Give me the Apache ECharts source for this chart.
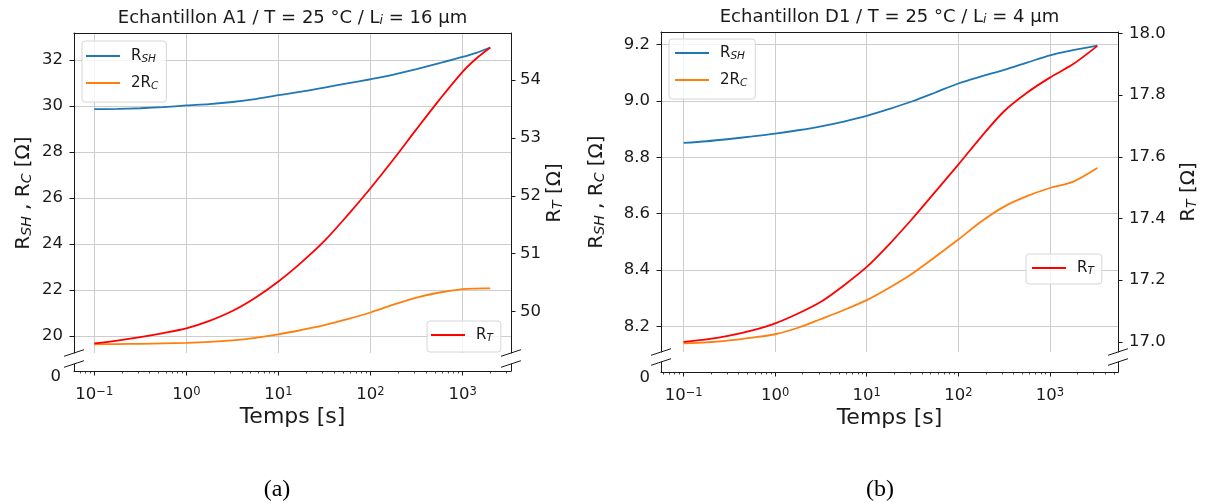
<!DOCTYPE html>
<html>
<head>
<meta charset="utf-8">
<script src="https://cdn.jsdelivr.net/npm/echarts@6/dist/echarts.min.js"></script>
<style>
html,body{margin:0;padding:0;background:#ffffff;}
#main{width:1207px;height:504px;}
</style>
</head>
<body>
<div id="main"></div>
<script>
// ---------------- DATA ----------------
// Chart (a): Echantillon A1 (time in s, quarter-decade readings)
const timeA = [0.1, 0.178, 0.316, 0.562, 1, 1.78, 3.16, 5.62, 10, 17.8, 31.6, 56.2, 100, 178, 316, 562, 1000, 1410, 2000];
const rshA  = [29.86, 29.87, 29.90, 29.95, 30.02, 30.08, 30.17, 30.30, 30.47, 30.62, 30.80, 30.98, 31.16, 31.36, 31.60, 31.86, 32.13, 32.31, 32.54];
const rcA   = [19.64, 19.65, 19.66, 19.68, 19.70, 19.74, 19.81, 19.92, 20.07, 20.26, 20.47, 20.73, 21.02, 21.36, 21.67, 21.89, 22.04, 22.06, 22.07];
const rtA   = [49.45, 49.50, 49.56, 49.63, 49.71, 49.84, 50.01, 50.24, 50.52, 50.85, 51.22, 51.66, 52.13, 52.63, 53.15, 53.66, 54.14, 54.37, 54.56];

// Chart (b): Echantillon D1
const timeB = [0.1, 0.178, 0.316, 0.562, 1, 1.78, 3.16, 5.62, 10, 17.8, 31.6, 56.2, 100, 178, 316, 562, 1000, 1780, 3300];
const rshB  = [8.851, 8.857, 8.865, 8.874, 8.884, 8.896, 8.910, 8.927, 8.947, 8.972, 8.999, 9.030, 9.062, 9.087, 9.110, 9.136, 9.162, 9.180, 9.196];
const rcB   = [8.140, 8.143, 8.150, 8.160, 8.172, 8.195, 8.226, 8.258, 8.293, 8.338, 8.388, 8.447, 8.508, 8.572, 8.625, 8.662, 8.691, 8.713, 8.762];
const rtB   = [17.000, 17.008, 17.020, 17.037, 17.060, 17.092, 17.130, 17.183, 17.243, 17.318, 17.400, 17.487, 17.575, 17.665, 17.748, 17.808, 17.857, 17.900, 17.960];

// Tick values / labels
const xTickValues   = [0.1, 1, 10, 100, 1000];
const leftTicksA    = [20, 22, 24, 26, 28, 30, 32];
const rightTicksA   = [50, 51, 52, 53, 54];
const leftTicksB    = [8.2, 8.4, 8.6, 8.8, 9.0, 9.2];
const rightTicksB   = [17.0, 17.2, 17.4, 17.6, 17.8, 18.0];
const breakTicks    = [0];

const titleA = 'Echantillon A1 / T = 25 °C / L{sub|i} = 16 µm';
const titleB = 'Echantillon D1 / T = 25 °C / L{sub|i} = 4 µm';
const captions = ['(a)', '(b)'];
const xName = 'Temps [s]';
const leftName = 'R{sub|SH} , R{sub|C} [Ω]';
const rightName = 'R{sub|T} [Ω]';
const legendLabels = {
  'RSH_a': 'R{sub|SH}', 'RC_a': '2R{sub|C}', 'RT_a': 'R{sub|T}',
  'RSH_b': 'R{sub|SH}', 'RC_b': '2R{sub|C}', 'RT_b': 'R{sub|T}'
};

// ---------------- LAYOUT ----------------
const FONT = 'DejaVu Sans';
const INK = '#1a1a1a';
const GRIDC = '#cdcdcd';
const C_BLUE = '#1f77b4', C_ORANGE = '#ff7f0e', C_RED = '#ff0000';

const LA = {left: 74, right: 511, top: 33, upBottom: 353, lowTop: 364, bottom: 371,
            xmin: Math.pow(10, -1.22), xmax: Math.pow(10, 3.526),
            lmin: 19.26, lmax: 33.17, rmin: 49.285, rmax: 54.81};
const LB = {left: 661, right: 1118, top: 32, upBottom: 352, lowTop: 362, bottom: 372,
            xmin: Math.pow(10, -1.247), xmax: Math.pow(10, 3.744),
            lmin: 8.109, lmax: 9.2447, rmin: 16.967, rmax: 18.005};

// minor tick positions for the log axes
function minorTicks(xmin, xmax) {
  const out = [];
  for (let k = -2; k <= 4; k++) {
    for (let m = 2; m <= 9; m++) {
      const v = m * Math.pow(10, k);
      if (v > xmin && v < xmax) out.push(v);
    }
  }
  return out;
}

const subRich = (size) => ({
  sub: {fontSize: size, fontStyle: 'italic', fontFamily: FONT, color: INK,
        verticalAlign: 'bottom', lineHeight: size}
});

function xLabel(v) {
  const e = Math.round(Math.log10(v));
  return '10{sup|' + (e < 0 ? '\u2212' + (-e) : e) + '}';
}

const pair = (xs, ys) => xs.map((x, i) => [x, ys[i]]);

function buildChart(L, gi, xi, yi, cfg) {
  const grids = [
    {left: L.left, top: L.top, width: L.right - L.left, height: L.upBottom - L.top, outerBoundsMode: 'none'},
    {left: L.left, top: L.lowTop, width: L.right - L.left, height: L.bottom - L.lowTop, outerBoundsMode: 'none'}
  ];
  const xAxes = [
    { // upper: top spine + vertical grid lines
      gridIndex: gi, type: 'log', logBase: 10, min: L.xmin, max: L.xmax, position: 'top',
      axisLine: {show: true, onZero: false, lineStyle: {color: INK, width: 1}},
      axisTick: {show: false, customValues: xTickValues},
      axisLabel: {show: false, customValues: xTickValues},
      splitLine: {show: true, lineStyle: {color: GRIDC, width: 1}}
    },
    { // lower: bottom spine, major ticks + labels
      gridIndex: gi + 1, type: 'log', logBase: 10, min: L.xmin, max: L.xmax, position: 'bottom',
      axisLine: {show: true, onZero: false, lineStyle: {color: INK, width: 1}},
      axisTick: {show: true, length: 4.5, customValues: xTickValues, lineStyle: {color: INK, width: 1}},
      axisLabel: {show: true, customValues: xTickValues, formatter: xLabel, margin: 15,
                  fontFamily: FONT, fontSize: 16.5, color: INK,
                  rich: {sup: {fontFamily: FONT, fontSize: 11.5, color: INK, verticalAlign: 'top', lineHeight: 9}}},
      splitLine: {show: false},
      name: xName, nameLocation: 'middle', nameGap: 35,
      nameTextStyle: {fontFamily: FONT, fontSize: 22, color: INK}
    },
    { // lower: minor ticks
      gridIndex: gi + 1, type: 'log', logBase: 10, min: L.xmin, max: L.xmax, position: 'bottom',
      axisLine: {show: false, onZero: false},
      axisTick: {show: true, length: 2.5, customValues: minorTicks(L.xmin, L.xmax), lineStyle: {color: INK, width: 0.8}},
      axisLabel: {show: false},
      splitLine: {show: false}
    }
  ];
  const yAxes = [
    { // upper left
      gridIndex: gi, type: 'value', position: 'left', min: L.lmin, max: L.lmax, splitNumber: cfg.lsplit,
      axisLine: {show: true, onZero: false, lineStyle: {color: INK, width: 1}},
      axisTick: {show: true, length: 4.5, customValues: cfg.lticks, lineStyle: {color: INK}},
      axisLabel: {customValues: cfg.lticks, margin: cfg.lmargin, fontFamily: FONT, fontSize: 16.5, color: INK,
                  formatter: cfg.fmt},
      splitLine: {show: true, lineStyle: {color: GRIDC, width: 1}},
      name: leftName, nameLocation: 'middle', nameRotate: 90, nameGap: cfg.lgap,
      nameTextStyle: {fontFamily: FONT, fontSize: 20, color: INK, rich: subRich(14)}
    },
    { // upper right (R_T)
      gridIndex: gi, type: 'value', position: 'right', min: L.rmin, max: L.rmax, splitNumber: 5,
      axisLine: {show: true, onZero: false, lineStyle: {color: INK, width: 1}},
      axisTick: {show: true, length: 4.5, customValues: cfg.rticks, lineStyle: {color: INK}},
      axisLabel: {customValues: cfg.rticks, margin: cfg.rmargin, fontFamily: FONT, fontSize: 16.5, color: INK,
                  formatter: cfg.fmt},
      splitLine: {show: false},
      name: rightName, nameLocation: 'middle', nameRotate: 90, nameGap: cfg.rgap,
      nameTextStyle: {fontFamily: FONT, fontSize: 20, color: INK, rich: subRich(14)}
    },
    { // lower left (0)
      gridIndex: gi + 1, type: 'value', position: 'left', min: 0, max: 1,
      axisLine: {show: true, onZero: false, lineStyle: {color: INK, width: 1}},
      axisTick: {show: false, customValues: breakTicks},
      axisLabel: {customValues: breakTicks, margin: cfg.zmargin, fontFamily: FONT, fontSize: 16.5, color: INK,
                  verticalAlign: 'top', lineHeight: 12},
      splitLine: {show: false}
    },
    { // lower right spine
      gridIndex: gi + 1, type: 'value', position: 'right', min: 0, max: 1,
      axisLine: {show: true, onZero: false, lineStyle: {color: INK, width: 1}},
      axisTick: {show: false}, axisLabel: {show: false}, splitLine: {show: false}
    }
  ];
  const lineBase = {type: 'line', showSymbol: false, symbol: 'none', smooth: 0.3,
                    xAxisIndex: xi, clip: true};
  const series = [
    Object.assign({}, lineBase, {name: cfg.names[0], yAxisIndex: yi, data: pair(cfg.t, cfg.rsh),
      lineStyle: {color: C_BLUE, width: 1.8}, itemStyle: {color: C_BLUE}}),
    Object.assign({}, lineBase, {name: cfg.names[1], yAxisIndex: yi, data: pair(cfg.t, cfg.rc),
      lineStyle: {color: C_ORANGE, width: 1.8}, itemStyle: {color: C_ORANGE}}),
    Object.assign({}, lineBase, {name: cfg.names[2], yAxisIndex: yi + 1, data: pair(cfg.t, cfg.rt),
      lineStyle: {color: C_RED, width: 1.8}, itemStyle: {color: C_RED}})
  ];
  return {grids, xAxes, yAxes, series};
}

const A = buildChart(LA, 0, 0, 0, {
  t: timeA, rsh: rshA, rc: rcA, rt: rtA, names: ['RSH_a', 'RC_a', 'RT_a'],
  lticks: leftTicksA, rticks: rightTicksA, lsplit: 7, fmt: (v) => String(Math.round(v)),
  lmargin: 11, rmargin: 9, lgap: 40, rgap: 34, zmargin: 13
});
const B = buildChart(LB, 2, 3, 4, {
  t: timeB, rsh: rshB, rc: rcB, rt: rtB, names: ['RSH_b', 'RC_b', 'RT_b'],
  lticks: leftTicksB, rticks: rightTicksB, lsplit: 6, fmt: (v) => Number(v).toFixed(1),
  lmargin: 11, rmargin: 11, lgap: 54, rgap: 61, zmargin: 11
});

const legendBase = {
  orient: 'vertical', icon: 'rect', itemWidth: 34, itemHeight: 2, itemGap: 9,
  backgroundColor: 'rgba(255,255,255,0.8)', borderColor: '#d6d6d6', borderWidth: 1, borderRadius: 3,
  selectedMode: false,
  formatter: (n) => legendLabels[n],
  textStyle: {fontFamily: FONT, fontSize: 15, color: INK, padding: [0, 0, 0, 6], lineHeight: 18, rich: subRich(10.5)}
};
const legends = [
  Object.assign({}, legendBase, {left: 82, top: 41, padding: [6, 8, 10, 4], data: ['RSH_a', 'RC_a']}),
  Object.assign({}, legendBase, {left: 427, top: 321, padding: [5, 8, 8, 4], data: ['RT_a']}),
  Object.assign({}, legendBase, {left: 669, top: 39, padding: [5, 8, 10, 6], data: ['RSH_b', 'RC_b']}),
  Object.assign({}, legendBase, {left: 1026, top: 254, padding: [5, 8, 7, 6], data: ['RT_b']})
];

// break marks (decoration) derived from layout constants
function breakMarks(L) {
  const out = [];
  [L.left, L.right].forEach((x) => {
    [L.upBottom, L.lowTop].forEach((y) => {
      out.push({type: 'line', silent: true, z: 100,
        shape: {x1: x - 10, y1: y + 3.3, x2: x + 10, y2: y - 3.3},
        style: {stroke: INK, lineWidth: 1}});
    });
  });
  return out;
}

const textRich = {sub: {fontSize: 12.5, fontStyle: 'italic', fontFamily: FONT, fill: INK, verticalAlign: 'bottom', lineHeight: 12}};
const graphics = [
  {type: 'text', x: (LA.left + LA.right) / 2, y: 18, silent: true,
   style: {text: titleA, fontFamily: FONT, fontSize: 18, fill: INK, align: 'center', verticalAlign: 'middle', rich: textRich}},
  {type: 'text', x: (LB.left + LB.right) / 2, y: 17, silent: true,
   style: {text: titleB, fontFamily: FONT, fontSize: 18, fill: INK, align: 'center', verticalAlign: 'middle', rich: textRich}},
  {type: 'text', x: 277, y: 490, silent: true,
   style: {text: captions[0], fontFamily: 'Liberation Serif', fontSize: 24, fill: '#000', align: 'center', verticalAlign: 'middle'}},
  {type: 'text', x: 880, y: 490, silent: true,
   style: {text: captions[1], fontFamily: 'Liberation Serif', fontSize: 24, fill: '#000', align: 'center', verticalAlign: 'middle'}},
  // the source panel (a) is cropped just right of its R_T label
  {type: 'rect', silent: true, z: 200, shape: {x: 562, y: 140, width: 12, height: 110}, style: {fill: '#ffffff'}}
].concat(breakMarks(LA), breakMarks(LB));

const option = {
  animation: false,
  backgroundColor: '#ffffff',
  grid: A.grids.concat(B.grids),
  xAxis: A.xAxes.concat(B.xAxes),
  yAxis: A.yAxes.concat(B.yAxes),
  legend: legends,
  series: A.series.concat(B.series),
  graphic: graphics
};

const chart = echarts.init(document.getElementById('main'), null, {renderer: 'canvas'});
chart.setOption(option);
</script>
</body>
</html>
